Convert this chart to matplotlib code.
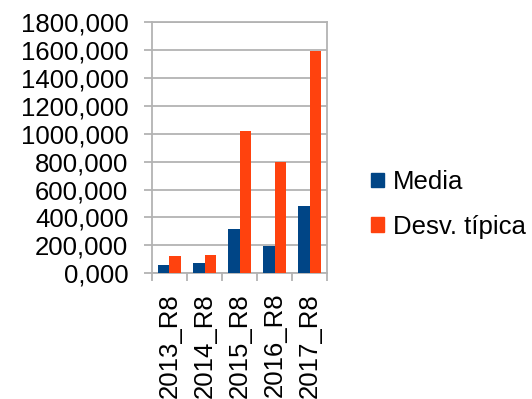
import numpy as np
import matplotlib
matplotlib.use('Agg')
import matplotlib.pyplot as plt
from matplotlib.patches import Patch
from matplotlib.ticker import FuncFormatter

plt.rcParams['font.family'] = ['Liberation Sans', 'DejaVu Sans']

# Values per year
categories = ['2013_R8', '2014_R8', '2015_R8', '2016_R8', '2017_R8']
media = [60, 76, 317, 196, 480]
desv_tipica = [126, 131, 1017, 800, 1592]

blue = '#004586'
orange = '#ff420e'
grid_gray = '#b3b3b3'
fs = 18.5

fig = plt.figure(figsize=(5.32, 3.99), dpi=100)
ax = fig.add_axes([0.2857, 0.315, 0.329, 0.630])

x = np.arange(len(categories))
w = 0.335
ax.bar(x - w / 2, media, width=w, color=blue, zorder=3)
ax.bar(x + w / 2, desv_tipica, width=w, color=orange, zorder=3)

ax.set_xlim(-0.5, len(categories) - 0.5)
ax.set_ylim(0, 1800)
ax.set_yticks(np.arange(0, 1801, 200))
ax.yaxis.set_major_formatter(FuncFormatter(lambda v, p: f'{v:.3f}'.replace('.', ',')))
ax.yaxis.grid(True, color=grid_gray, linewidth=1.3, zorder=0)

# labels at category centres, tick marks at category boundaries
ax.set_xticks(x)
ax.set_xticklabels(categories, rotation=90, fontsize=fs)
ax.set_xticks(np.arange(-0.5, len(categories), 1), minor=True)
ax.tick_params(axis='x', which='major', length=0, pad=14)
ax.tick_params(axis='x', which='minor', length=6, width=1.3, color=grid_gray)
ax.tick_params(axis='y', length=6, width=1.3, color=grid_gray, labelsize=fs, pad=11)

for s in ax.spines.values():
    s.set_color(grid_gray)
    s.set_linewidth(1.3)

handles = [Patch(color=blue, label='Media'), Patch(color=orange, label='Desv. típica')]
fig.legend(handles=handles, loc='center left', bbox_to_anchor=(0.698, 0.4875),
           frameon=False, fontsize=fs, handlelength=0.5, handleheight=0.5,
           handletextpad=0.35, labelspacing=0.8, borderpad=0, borderaxespad=0)

fig.savefig('out.png', dpi=100)
